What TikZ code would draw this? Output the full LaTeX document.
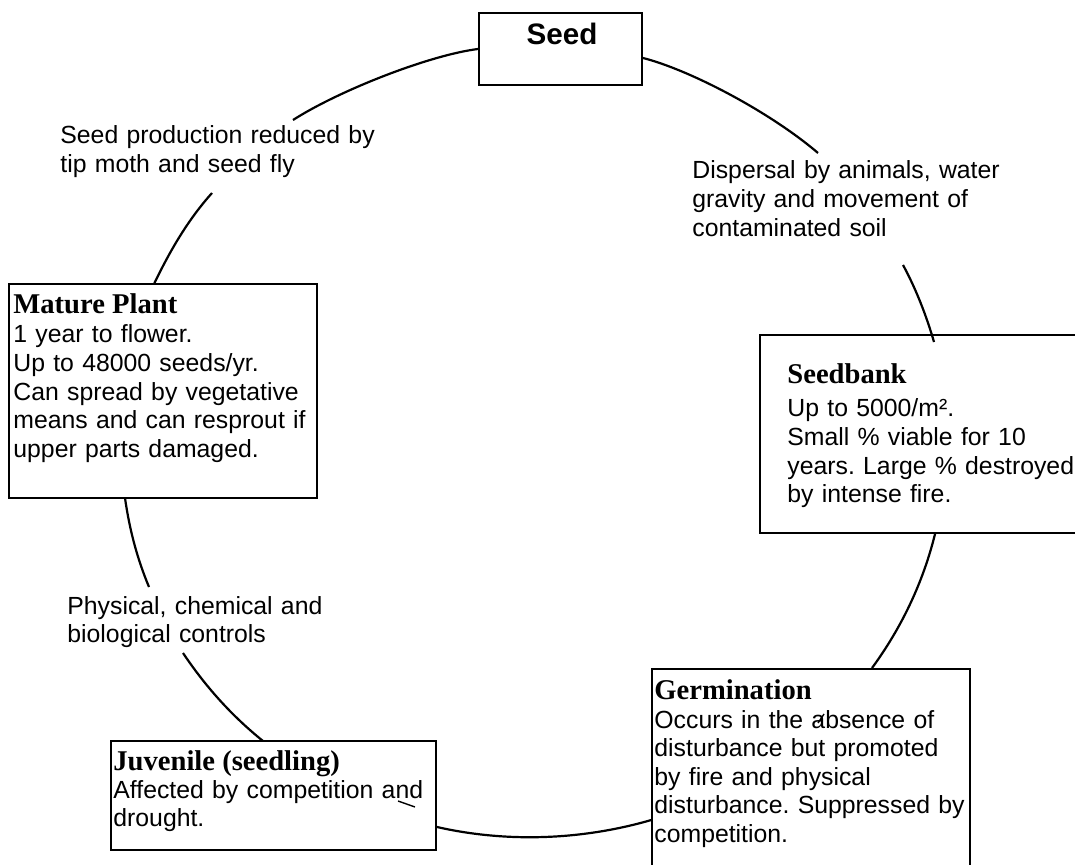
\documentclass[tikz,border=0pt]{standalone}
\usepackage{fontspec}
\setmainfont{Liberation Serif}
\newfontfamily\arialf{Liberation Sans}
\usetikzlibrary{fit}
\frenchspacing
\begin{document}
\begin{tikzpicture}[x=0.5pt,y=-0.5pt,
  boxthick/.style={draw, line width=1pt, inner sep=0pt},
  boxthin/.style={draw, line width=0.7pt, inner sep=0pt},
  cycarc/.style={line width=1.1pt},
  stray/.style={line width=0.7pt},
  head/.style={anchor=base west, inner sep=0pt, font=\fontsize{14.3}{16}\selectfont\bfseries},
  body/.style={anchor=base west, inner sep=0pt, align=left, text width=190pt, font=\arialf\fontsize{12.4}{14.3}\selectfont\frenchspacing},
  lbl/.style={anchor=base west, inner sep=0pt, align=left, text width=190pt, font=\arialf\fontsize{12.4}{14.4}\selectfont\frenchspacing}]
\clip (0,0) rectangle (1075,865);
\fill[white] (0,0) rectangle (1075,865);

% boxes
\node[boxthick, fit={(479,13)(642,85)}] (seed) {};
\node[boxthick, fit={(9,284)(317,498)}] (mature) {};
\node[boxthin, fit={(760,335)(1090,533)}] (seedbank) {};
\node[boxthin, fit={(652,669)(970,880)}] (germ) {};
\node[boxthick, fit={(111,741)(436,850)}] (juv) {};

% box texts
\node[anchor=base, inner sep=0pt, font=\arialf\bfseries\fontsize{14.8}{16}\selectfont] (seedt) at (562,45) {Seed};

\node[head] (matureh) at (13,314) {Mature Plant};
\node[body] (matureb) at (13,343) {1 year to flower.\\Up to 48000 seeds/yr.\\Can spread by vegetative\\means and can resprout if\\upper parts damaged.};

\node[head] (seedbankh) at (787,384) {Seedbank};
\node[body] (seedbankb) at (787,417) {Up to 5000/m².\\Small \% viable for 10\\years. Large \% destroyed\\by intense fire.};

\node[head] (germh) at (654,699) {Germination};
\node[body] (germb) at (654,728) {Occurs in the absence of\\disturbance but promoted\\by fire and physical\\disturbance. Suppressed by\\competition.};

\node[head] (juvh) at (113,770) {Juvenile (seedling)};
\node[body] (juvb) at (113,798) {Affected by competition and\\drought.};

% arc labels
\node[lbl] (l1) at (60,144) {Seed production reduced by\\tip moth and seed fly};
\node[lbl] (l2) at (692,179) {Dispersal by animals, water\\gravity and movement of\\contaminated soil};
\node[lbl] (l3) at (67,614) {Physical, chemical and\\biological controls};

% arc end points
\coordinate (a0) at (seed.west |- 0,49);
\coordinate (a1) at (293,120);
\coordinate (b0) at (seed.east |- 0,58);
\coordinate (b1) at (818,153);
\coordinate (c0) at (903,265);
\coordinate (c1) at (934,342);
\coordinate (d0) at (935,534);
\coordinate (d1) at (872,668);
\coordinate (e0) at (germ.west |- 0,820);
\coordinate (e1) at (juv.east |- 0,827);
\coordinate (f0) at (263,741);
\coordinate (f1) at (183,653);
\coordinate (g0) at (149,587);
\coordinate (g1) at (125,498);
\coordinate (h0) at (154,284);
\coordinate (h1) at (212,193);

% arcs of the cycle
\draw[cycarc] (a0) .. controls (430,55) and (340,90) .. (a1);
\draw[cycarc] (b0) .. controls (690,70) and (770,112) .. (b1);
\draw[cycarc] (c0) .. controls (916.1,289.1) and (926.4,315.9) .. (c1);
\draw[cycarc] (d0) .. controls (923.2,582.0) and (901.7,627.5) .. (d1);
\draw[cycarc] (e0) .. controls (581.8,840.2) and (506.4,842.8) .. (e1);
\draw[cycarc] (f0) .. controls (231.3,715.5) and (205.2,686.1) .. (f1);
\draw[cycarc] (g0) .. controls (136.9,558.0) and (129.4,528.9) .. (g1);
\draw[cycarc] (h0) .. controls (169.7,251.4) and (187.5,220.3) .. (h1);

% small stray strokes
\coordinate (s1a) at (398,801);
\coordinate (s1b) at (415,807);
\draw[stray] (s1a) -- (s1b);
\coordinate (s2a) at (818,723);
\coordinate (s2b) at (824,714);
\draw[stray] (s2a) -- (s2b);
\end{tikzpicture}
\end{document}
